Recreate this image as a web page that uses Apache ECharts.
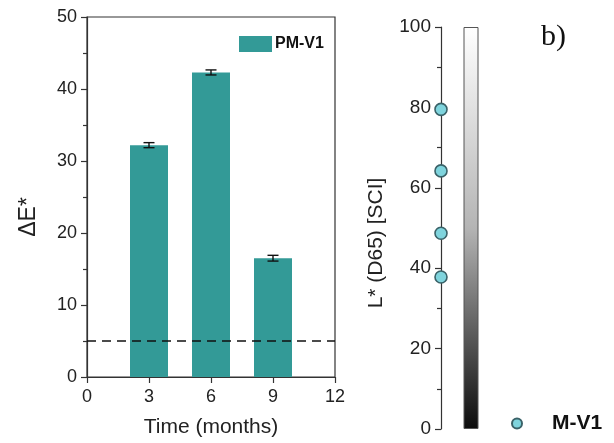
<!DOCTYPE html>
<html>
<head>
<meta charset="utf-8">
<script src="https://cdn.jsdelivr.net/npm/echarts@6/dist/echarts.min.js"></script>
<style>
  html, body { margin: 0; padding: 0; background: #fff; }
  #main { width: 614px; height: 443px; }
</style>
</head>
<body>
<div id="main"></div>
<script>
// 左图: 色差随时间
var months = [3, 6, 9];
var deltaE = [32.2, 42.3, 16.5];
var deltaErr = [0.35, 0.35, 0.4];
var threshold = 5;
var xTicks = [0, 3, 6, 9, 12];

// 右图: L* 数值
var lightness = [79.5, 64.2, 48.7, 37.8];
var lightScale = [100];

var teal = '#339a97';
var axisColor = '#333';
var font = 'Liberation Sans, Arial, sans-serif';

var chart = echarts.init(document.getElementById('main'), null, { renderer: 'canvas' });

var barData = months.map(function (m, i) { return [m, deltaE[i]]; });
var errData = months.map(function (m, i) { return [m, deltaE[i] - deltaErr[i], deltaE[i] + deltaErr[i]]; });
var dotData = lightness.map(function (v) { return [0, v]; });

var option = {
  animation: false,
  grid: [
    { left: 87, top: 17, width: 248, height: 362, show: true, borderColor: axisColor, borderWidth: 1.2, backgroundColor: 'transparent' },
    { left: 441, top: 27, width: 50, height: 402 }
  ],
  xAxis: [{
    gridIndex: 0,
    type: 'value',
    min: xTicks[0],
    max: xTicks[xTicks.length - 1],
    interval: 3,
    name: 'Time (months)',
    nameLocation: 'middle',
    nameGap: 40,
    nameTextStyle: { fontFamily: font, fontSize: 21, color: '#222' },
    axisLine: { show: true, lineStyle: { color: axisColor, width: 1.2 } },
    axisTick: { show: true, length: 6, lineStyle: { color: axisColor, width: 1.2 } },
    axisLabel: { fontFamily: font, fontSize: 18, color: '#222', margin: 11 },
    splitLine: { show: false }
  }, {
    gridIndex: 1,
    type: 'value',
    min: 0,
    max: 10,
    show: false
  }],
  yAxis: [{
    gridIndex: 0,
    type: 'value',
    min: 0,
    max: 50,
    interval: 10,
    name: 'ΔE*',
    nameLocation: 'middle',
    nameGap: 47,
    nameTextStyle: { fontFamily: font, fontSize: 23, color: '#222', padding: [0, 40, 0, 0] },
    axisLine: { show: true, lineStyle: { color: axisColor, width: 1.2 } },
    axisTick: { show: true, length: 6, lineStyle: { color: axisColor, width: 1.2 } },
    minorTick: { show: true, splitNumber: 2, length: 4, lineStyle: { color: axisColor, width: 1.2 } },
    axisLabel: { fontFamily: font, fontSize: 18, color: '#222', margin: 10 },
    splitLine: { show: false }
  }, {
    gridIndex: 1,
    type: 'value',
    min: 0,
    max: 100,
    interval: 20,
    name: 'L* (D65) [SCI]',
    nameLocation: 'middle',
    nameGap: 54,
    nameTextStyle: { fontFamily: font, fontSize: 21, color: '#222', padding: [0, 30, 0, 0] },
    axisLine: { show: true, lineStyle: { color: axisColor, width: 1.2 } },
    axisTick: { show: true, length: 6, lineStyle: { color: axisColor, width: 1.2 } },
    minorTick: { show: true, splitNumber: 2, length: 4, lineStyle: { color: axisColor, width: 1.2 } },
    axisLabel: { fontFamily: font, fontSize: 19, color: '#222', margin: 10 },
    splitLine: { show: false }
  }],
  legend: [{
    data: [{ name: 'PM-V1', icon: 'rect' }],
    left: 239,
    top: 36,
    padding: 0,
    itemWidth: 33,
    itemHeight: 16,
    itemGap: 0,
    textStyle: { fontFamily: font, fontSize: 16, fontWeight: 'bold', color: '#111', padding: [0, 0, 0, -2] }
  }, {
    data: [{ name: 'M-V1', icon: 'circle' }],
    left: 511,
    top: 413,
    padding: 0,
    itemWidth: 10,
    itemHeight: 10,
    textStyle: { fontFamily: font, fontSize: 21, fontWeight: 'bold', color: '#111', padding: [0, 0, 0, 25] }
  }],
  graphic: [{
    type: 'text',
    left: 541,
    top: 22,
    style: { text: 'b)', fontFamily: 'Liberation Serif, DejaVu Serif, serif', fontSize: 30, fill: '#111' }
  }],
  series: [{
    name: 'PM-V1',
    type: 'bar',
    xAxisIndex: 0,
    yAxisIndex: 0,
    barWidth: 38,
    itemStyle: { color: teal },
    data: barData,
    markLine: {
      silent: true,
      symbol: 'none',
      label: { show: false },
      lineStyle: { color: '#111', type: [9, 6], width: 1.6 },
      data: [{ yAxis: threshold }]
    },
    z: 2
  }, {
    name: 'err',
    type: 'custom',
    xAxisIndex: 0,
    yAxisIndex: 0,
    data: errData,
    z: 5,
    renderItem: function (params, api) {
      var x = api.value(0);
      var lo = api.coord([x, api.value(1)]);
      var hi = api.coord([x, api.value(2)]);
      var cap = 5.5;
      var st = { stroke: '#111', lineWidth: 1.4 };
      return {
        type: 'group',
        children: [
          { type: 'line', shape: { x1: lo[0], y1: lo[1], x2: hi[0], y2: hi[1] }, style: st },
          { type: 'line', shape: { x1: lo[0] - cap, y1: lo[1], x2: lo[0] + cap, y2: lo[1] }, style: st },
          { type: 'line', shape: { x1: hi[0] - cap, y1: hi[1], x2: hi[0] + cap, y2: hi[1] }, style: st }
        ]
      };
    }
  }, {
    name: 'scale',
    type: 'bar',
    xAxisIndex: 1,
    yAxisIndex: 1,
    barWidth: 15,
    silent: true,
    data: [[6, lightScale[0]]],
    itemStyle: {
      borderColor: '#555',
      borderWidth: 1,
      color: new echarts.graphic.LinearGradient(0, 0, 0, 1, [
        { offset: 0, color: '#ffffff' },
        { offset: 0.5, color: '#b4b4b4' },
        { offset: 1, color: '#0c0c0c' }
      ])
    }
  }, {
    name: 'M-V1',
    type: 'scatter',
    xAxisIndex: 1,
    yAxisIndex: 1,
    clip: false,
    symbolSize: 12,
    itemStyle: { color: '#7fd4dd', borderColor: '#3a6268', borderWidth: 1.6, opacity: 1 },
    data: dotData,
    z: 5
  }]
};

chart.setOption(option);
</script>
</body>
</html>
